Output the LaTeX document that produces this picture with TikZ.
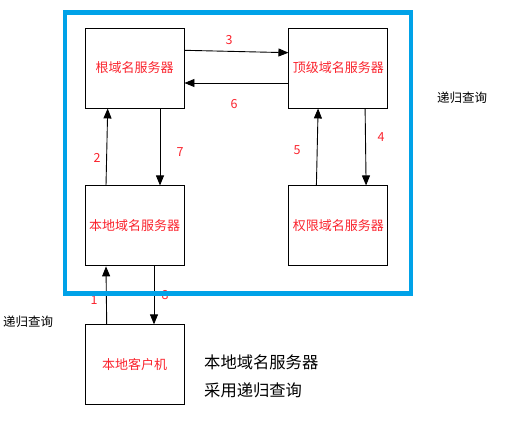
\documentclass[tikz,border=0pt]{standalone}
\usepackage{fontspec}
\setmainfont{Noto Sans CJK SC}
\usepackage{xcolor}
\usetikzlibrary{arrows.meta, positioning}
\definecolor{labelred}{RGB}{250,35,45}
\definecolor{frameblue}{RGB}{0,162,232}

\begin{document}
\begin{tikzpicture}[x=1pt, y=-1pt]
    % Define styles
    \tikzset{
        server/.style={rectangle, draw=black, line width=0.9pt, minimum width=99pt, minimum height=80pt, inner sep=0pt, text=labelred, font=\fontsize{13}{15}\selectfont},
        num/.style={text=labelred, inner sep=0pt, font=\fontsize{12.5}{14}\selectfont},
        note/.style={text=black, inner sep=0pt, align=left},
        link/.style={line width=0.9pt, -{Triangle[length=10pt, width=8pt]}}
    }
    \useasboundingbox (0,0) rectangle (508,423);

    % Servers
    \node[server] (root) at (134.5,68) {根域名服务器};
    \node[server, right=104pt of root] (tld) {顶级域名服务器};
    \node[server, below=77pt of root] (local) {本地域名服务器};
    \node[server, below=77pt of tld] (auth) {权限域名服务器};
    \node[server, below=58pt of local] (client) {本地客户机};

    % Arrows
    \draw[link] ([yshift=17.7pt]root.east) -- ([yshift=15.3pt]tld.west);
    \draw[link] ([yshift=-15pt]tld.west) -- ([yshift=-15pt]root.east);
    \draw[link] ([xshift=-28.5pt]local.north) -- ([xshift=-26.8pt]root.south);
    \draw[link] ([xshift=25.5pt]root.south) -- ([xshift=25.5pt]local.north);
    \draw[link] ([xshift=-22pt]auth.north) -- ([xshift=-20.3pt]tld.south);
    \draw[link] ([xshift=26.7pt]tld.south) -- ([xshift=27.7pt]auth.north);
    \draw[link] ([xshift=-27.8pt]client.north) -- ([xshift=-28.5pt]local.south);
    \draw[link] ([xshift=19.5pt]local.south) -- ([xshift=19.5pt]client.north);

    % Step numbers
    \node[num] (n1) at (94,300) {1};
    \node[num] (n2) at (97,158) {2};
    \node[num] (n3) at (229,40) {3};
    \node[num] (n4) at (381,137) {4};
    \node[num] (n5) at (297,150) {5};
    \node[num] (n6) at (234,104) {6};
    \node[num] (n7) at (180,152) {7};
    \node[num] (n8) at (165,295) {8};

    % Notes
    \node[note, font=\fontsize{12.5}{14}\selectfont] (recA) at (462,98) {递归查询};
    \node[note, font=\fontsize{12.5}{14}\selectfont] (recB) at (28,322) {递归查询};
    \node[note, font=\fontsize{16.3}{28}\selectfont, anchor=north west] (remark) at (204,355) {本地域名服务器\\采用递归查询};

    % Frame
    \draw[frameblue, line width=4.5pt] (65,12.5) rectangle (411,293.5);
\end{tikzpicture}
\end{document}
